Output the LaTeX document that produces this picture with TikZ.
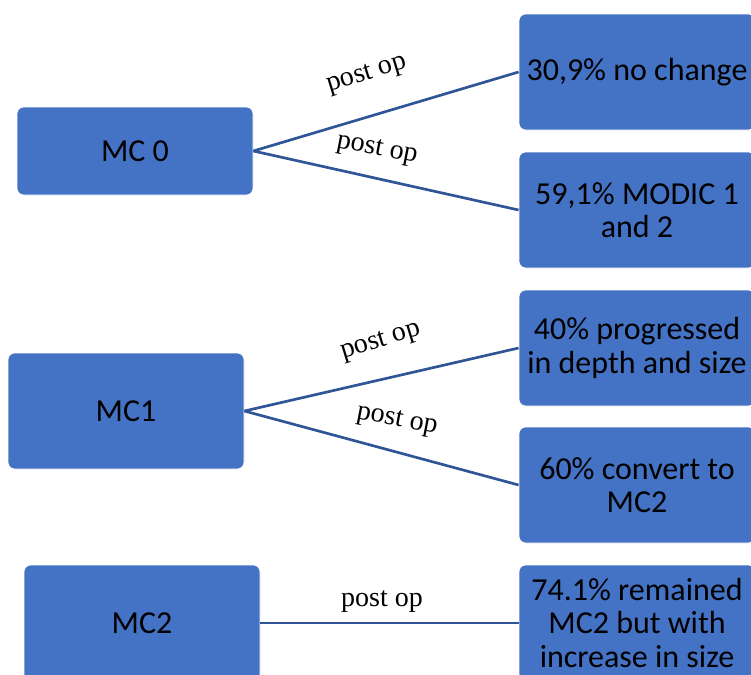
\documentclass[tikz,border=0pt]{standalone}
\usepackage{fontspec}
\setmainfont{Carlito}
\newfontfamily\lblfont{Liberation Serif}
\definecolor{boxblue}{RGB}{68,114,196}
\definecolor{lineblue}{RGB}{47,85,151}

\begin{document}
\begin{tikzpicture}[x=0.75pt,y=-0.75pt]
  \tikzstyle{box}=[rectangle,rounded corners=5pt,fill=boxblue,draw=white,line width=0.6pt,minimum width=177pt,minimum height=87pt,align=center,inner sep=2pt,font=\fontsize{24}{25}\selectfont]
  \tikzstyle{lbl}=[font=\lblfont\fontsize{21}{23}\selectfont,inner sep=0pt]
  \tikzstyle{link}=[draw=lineblue,line width=2pt]

  \useasboundingbox (0,0) rectangle (751,675);
  \clip (0,0) rectangle (751,675);

  \node[box,minimum height=66pt] (mc0) at (135,151) {MC 0};
  \node[box] (nochange) at (637,72) {30,9\% no change};
  \node[box] (modic) at (637,210) {59,1\% MODIC 1\\and 2};

  \node[box] (mc1) at (126,411) {MC1};
  \node[box] (progressed) at (637,348) {40\% progressed\\in depth and size};
  \node[box] (convert) at (637,485) {60\% convert to\\MC2};

  \node[box] (mc2) at (142,623) {MC2};
  \node[box] (remained) at (637,623) {74.1\% remained\\MC2 but with\\increase in size};

  \draw[link] (mc0.east) -- (nochange.west);
  \draw[link] (mc0.east) -- (modic.west);
  \draw[link] (mc1.east) -- (progressed.west);
  \draw[link] (mc1.east) -- (convert.west);
  \draw[link] (mc2.east) -- (remained.west);

  \node[lbl,rotate=17] (op0a) at (367,75) {post op};
  \node[lbl,rotate=-11] (op0b) at (377,150) {post op};
  \node[lbl,rotate=17] (op1a) at (381,342) {post op};
  \node[lbl,rotate=-11] (op1b) at (397,421) {post op};
  \node[lbl] (op2) at (382,602) {post op};

\end{tikzpicture}
\end{document}
